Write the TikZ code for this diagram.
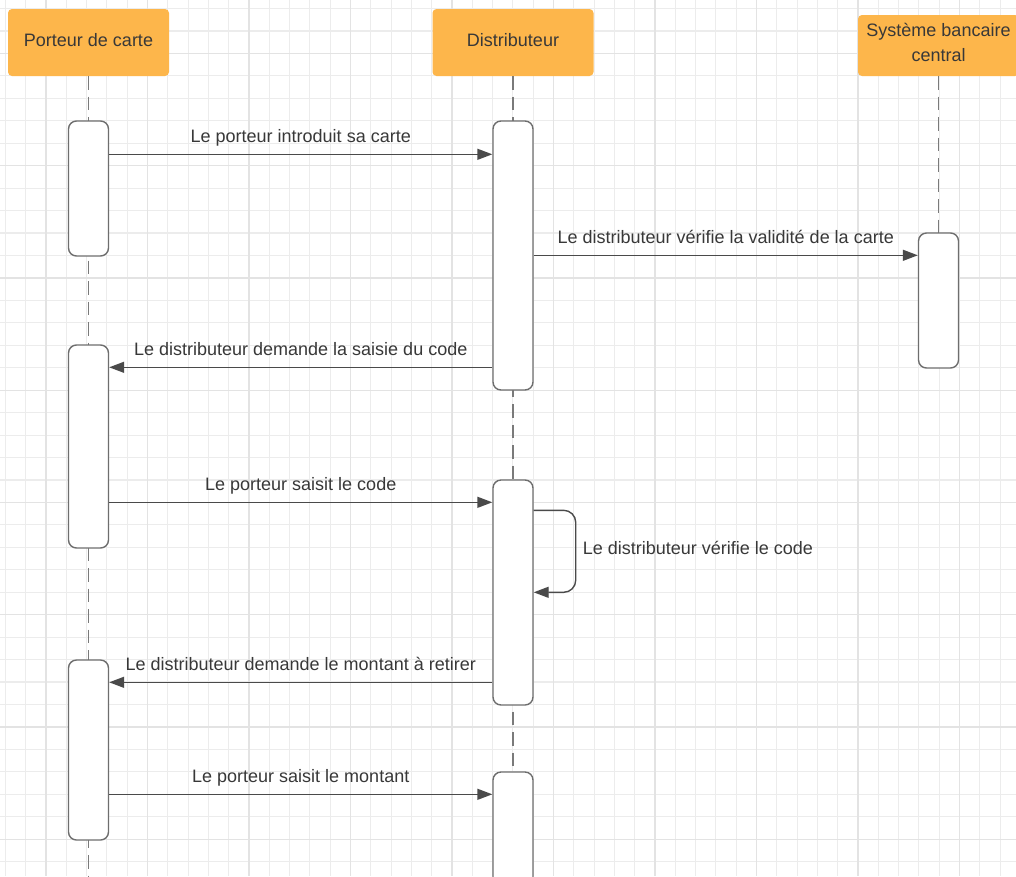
\documentclass[tikz,border=0pt]{standalone}
\usepackage{fontspec}
\setmainfont{Liberation Sans}
\usetikzlibrary{arrows.meta,calc}
\definecolor{hdr}{HTML}{FDB64B}
\definecolor{ink}{HTML}{383838}
\definecolor{edge}{HTML}{6E6E6E}
\definecolor{msgc}{HTML}{4A4A4A}
\definecolor{gridminor}{HTML}{ECECEC}
\definecolor{gridmajor}{HTML}{E3E3E3}
\definecolor{lifegray}{HTML}{7A7A7A}

\begin{document}
\begin{tikzpicture}[x=1pt,y=-1pt,
  actor/.style={rectangle, rounded corners=4pt, fill=hdr, minimum width=161pt,
    minimum height=67pt, inner sep=0pt},
  htext/.style={text=ink, font=\fontsize{18}{24.7}\selectfont, align=center, inner sep=0pt},
  act/.style={rectangle, rounded corners=8pt, draw=edge, line width=1.4pt, fill=white,
    minimum width=40pt, inner sep=0pt},
  life/.style={draw=lifegray, line width=1.2pt, dash pattern=on 13.5pt off 7pt},
  msg/.style={draw=msgc, line width=1.4pt, -{Triangle[length=15pt,width=11pt]}},
  lbl/.style={text=ink, font=\fontsize{18}{22}\selectfont, inner sep=0pt, anchor=base},
]
\useasboundingbox (0,0) rectangle (1016,876);
\fill[white] (0,0) rectangle (1016,876);
\clip (0,0) rectangle (1016,876);

% background grid
\foreach \k in {0,...,49} {
  \pgfmathsetmacro{\gx}{5.4+20.3*\k}
  \draw[gridminor, line width=1.1pt] (\gx,0) -- (\gx,876);
}
\foreach \k in {0,...,38} {
  \pgfmathsetmacro{\gy}{8.5+22.45*\k}
  \draw[gridminor, line width=1.1pt] (0,\gy) -- (1016,\gy);
}
\foreach \k in {0,...,9} {
  \pgfmathsetmacro{\gx}{46+101.5*\k}
  \draw[gridmajor, line width=1.3pt] (\gx,0) -- (\gx,876);
}
\foreach \k in {0,...,7} {
  \pgfmathsetmacro{\gy}{53.4+112.25*\k}
  \draw[gridmajor, line width=1.3pt] (0,\gy) -- (1016,\gy);
}

% participants
\node[actor] (pc) at (88.5,42.5) {};
\node[htext, anchor=base] (pcT) at (88.5,46.7) {Porteur de carte};
\node[actor] (dist) at (513,42.5) {};
\node[htext, anchor=base] (distT) at (513,46.7) {Distributeur};
\node[actor, minimum height=61pt] (sys) at (938.5,45.5) {};
\node[htext] (sysT) at (938.5,42.7) {Système bancaire\\central};

% lifelines
\coordinate (pcEnd) at (88.5,876);
\coordinate (distEnd) at (513,876);
\draw[life] (pc) -- (pcEnd);
\draw[life] (dist) -- (distEnd);

% activation bars
\node[act, minimum height=135pt] (A1) at (88.5,188.5) {};
\node[act, minimum height=203pt] (A2) at (88.5,446.5) {};
\node[act, minimum height=180pt] (A3) at (88.5,750) {};
\node[act, minimum height=269pt] (B1) at (513,255.5) {};
\node[act, minimum height=225pt] (B2) at (513,592.5) {};
\node[act, minimum height=128pt] (B3) at (513,836) {};
\draw[life] (sys) -- (938.5,233);
\node[act, minimum height=135pt] (C1) at (938.5,300.5) {};

% messages
\draw[msg] ([yshift=-34pt]A1.north east) -- ([yshift=-34pt]B1.north west)
  node[lbl, midway, yshift=12pt] (l1) {Le porteur introduit sa carte};
\draw[msg] ([yshift=-135pt]B1.north east) -- ([yshift=-23pt]C1.north west)
  node[lbl, midway, yshift=12pt] (l2) {Le distributeur vérifie la validité de la carte};
\draw[msg] ([yshift=-247pt]B1.north west) -- ([yshift=-23pt]A2.north east)
  node[lbl, midway, yshift=12pt] (l3) {Le distributeur demande la saisie du code};
\draw[msg] ([yshift=-158pt]A2.north east) -- ([yshift=-23pt]B2.north west)
  node[lbl, midway, yshift=12pt] (l4) {Le porteur saisit le code};
\draw[msg, rounded corners=12pt] ([yshift=-31pt]B2.north east) -- ++(42,0) -- ++(0,82)
  -- ([yshift=-113pt]B2.north east);
\node[lbl, anchor=base west] (l5) at ([xshift=49pt,yshift=-75pt]B2.north east)
  {Le distributeur vérifie le code};
\draw[msg] ([yshift=-203pt]B2.north west) -- ([yshift=-23pt]A3.north east)
  node[lbl, midway, yshift=12pt] (l6) {Le distributeur demande le montant à retirer};
\draw[msg] ([yshift=-135pt]A3.north east) -- ([yshift=-23pt]B3.north west)
  node[lbl, midway, yshift=12pt] (l7) {Le porteur saisit le montant};
\end{tikzpicture}
\end{document}
